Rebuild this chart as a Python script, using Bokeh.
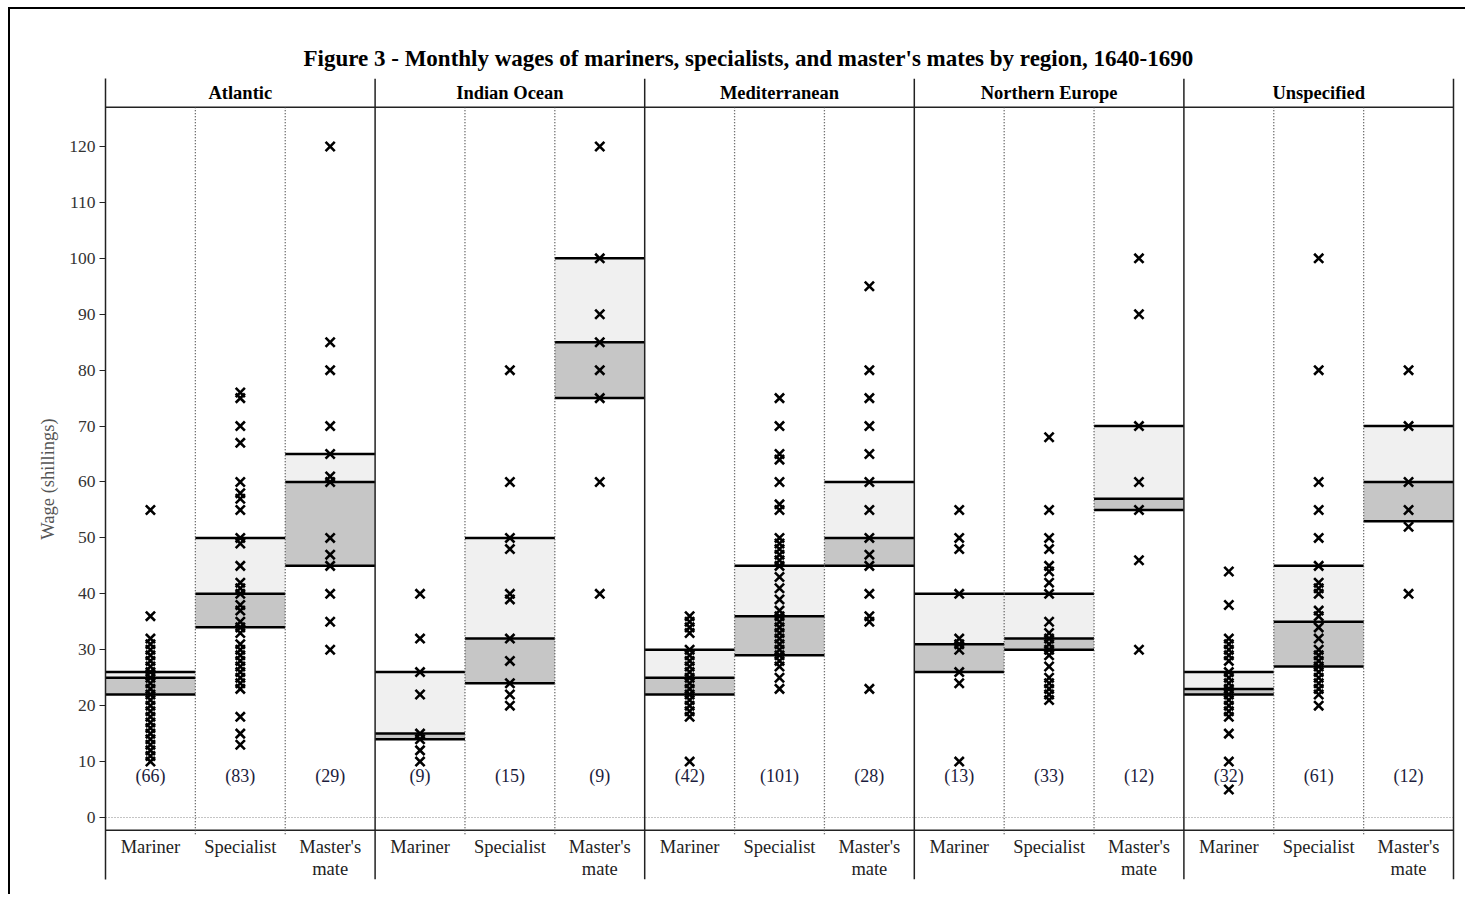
from bokeh.plotting import figure
from bokeh.models import Range1d, FixedTicker
from bokeh.layouts import column
from bokeh.embed import file_html
from bokeh.resources import INLINE
from bokeh.core.properties import value

# ---------------- data ----------------
regions = ["Atlantic", "Indian Ocean", "Mediterranean", "Northern Europe", "Unspecified"]
roles = ["Mariner", "Specialist", "Master's\nmate"]

atlantic_mariner = [55, 36, 32, 31, 30, 29, 28, 27, 26, 25, 24, 23, 22, 21, 20, 19, 18, 17, 16, 15, 14, 13, 12, 11, 10]
atlantic_specialist = [76, 75, 70, 67, 60, 58, 57, 55, 50, 49, 45, 42, 41, 40, 38, 37, 35, 34, 33, 31, 30, 29, 28,
                       27, 26, 25, 24, 23, 18, 15, 13]
atlantic_mate = [120, 85, 80, 70, 65, 61, 60, 50, 47, 45, 40, 35, 30]

indian_mariner = [40, 32, 26, 22, 15, 14, 12, 10]
indian_specialist = [80, 60, 50, 48, 40, 39, 32, 28, 24, 22, 20]
indian_mate = [120, 100, 90, 85, 80, 75, 60, 40]

med_mariner = [36, 35, 34, 33, 30, 29, 28, 27, 26, 25, 24, 23, 22, 21, 20, 19, 18, 10]
med_specialist = [75, 70, 65, 64, 60, 56, 55, 50, 49, 48, 47, 46, 45, 43, 41, 39, 37, 36, 35, 34, 33, 32, 31, 30,
                  29, 28, 27, 25, 23]
med_mate = [95, 80, 75, 70, 65, 60, 55, 50, 47, 45, 40, 36, 35, 23]

north_mariner = [55, 50, 48, 40, 32, 31, 30, 26, 24, 10]
north_specialist = [68, 55, 50, 48, 45, 44, 42, 40, 35, 33, 32, 31, 30, 29, 27, 25, 24, 23, 22, 21]
north_mate = [100, 90, 70, 60, 55, 46, 30]

unspec_mariner = [44, 38, 32, 31, 30, 29, 28, 26, 25, 24, 23, 22, 21, 20, 19, 18, 15, 10, 5]
unspec_specialist = [100, 80, 60, 55, 50, 45, 42, 41, 40, 37, 36, 34, 32, 30, 29, 28, 27, 26, 25, 24, 23, 22, 20]
unspec_mate = [80, 70, 60, 55, 52, 40]

q1 = [22, 34, 45, 14, 24, 75, 22, 29, 45, 26, 30, 55, 22, 27, 53]
median = [25, 40, 60, 15, 32, 85, 25, 36, 50, 31, 32, 57, 23, 35, 60]
q3 = [26, 50, 65, 26, 50, 100, 30, 45, 60, 40, 40, 70, 26, 45, 70]
counts = [66, 83, 29, 9, 15, 9, 42, 101, 28, 13, 33, 12, 32, 61, 12]

y_ticks = [0, 10, 20, 30, 40, 50, 60, 70, 80, 90, 100, 110, 120]

points = [atlantic_mariner, atlantic_specialist, atlantic_mate,
          indian_mariner, indian_specialist, indian_mate,
          med_mariner, med_specialist, med_mate,
          north_mariner, north_specialist, north_mate,
          unspec_mariner, unspec_specialist, unspec_mate]

# ---------------- layout ----------------
FONT = "Liberation Serif"
n = len(points)
nroles = len(roles)
left = list(range(n))
right = [i + 1 for i in left]
centers = [i + 0.5 for i in left]

Y_BOTTOM, Y_TOP = -11.09, 132.16
STRIP_Y = 127.0
AXIS_Y = -2.27

p = figure(width=1455, height=885,
           x_range=Range1d(0, n + 0.0334), y_range=Range1d(Y_BOTTOM, Y_TOP),
           output_backend="svg", toolbar_location=None,
           min_border_left=95, min_border_right=9, min_border_top=69, min_border_bottom=15,
           title="Figure 3 - Monthly wages of mariners, specialists, and master's mates by region, 1640-1690")
p.title.text_font = FONT
p.title.text_font_size = "23px"
p.title.text_font_style = "bold"
p.title.text_color = "black"
p.title.align = "left"
p.title.offset = 198
p.title.standoff = 16

p.xaxis.visible = False
p.xgrid.visible = False
p.ygrid.visible = False
p.outline_line_color = None
p.background_fill_color = "white"
p.border_fill_color = "white"

ya = p.yaxis[0]
ya.ticker = FixedTicker(ticks=y_ticks)
ya.axis_line_color = "#222222"
ya.axis_line_width = 1.5
ya.major_tick_line_color = "#222222"
ya.major_tick_line_width = 1.2
ya.major_tick_out = 6
ya.major_tick_in = 0
ya.minor_tick_out = 0
ya.minor_tick_in = 0
ya.major_label_text_font = FONT
ya.major_label_text_font_size = "17.5px"
ya.major_label_text_color = "#333333"
ya.major_label_standoff = 4
ya.axis_label = "Wage (shillings)"
ya.axis_label_text_font = FONT
ya.axis_label_text_font_size = "18.5px"
ya.axis_label_text_font_style = "normal"
ya.axis_label_text_color = "#555555"
ya.axis_label_standoff = 8

# boxes (Q1-median dark, median-Q3 light)
p.quad(left=left, right=right, bottom=q1, top=median, fill_color="#c6c6c6", line_color=None)
p.quad(left=left, right=right, bottom=median, top=q3, fill_color="#f0f0f0", line_color=None)
for stat in (q1, median, q3):
    p.segment(x0=left, y0=stat, x1=right, y1=stat, line_color="black", line_width=2.5)

# frame lines
p.segment(x0=[0], y0=[0], x1=[n], y1=[0], line_color="#888888", line_width=1, line_dash="1 2")
p.segment(x0=[0], y0=[STRIP_Y], x1=[n], y1=[STRIP_Y], line_color="#222222", line_width=1.5)
p.segment(x0=[0], y0=[AXIS_Y], x1=[n], y1=[AXIS_Y], line_color="#222222", line_width=1.5)
inner = [i for i in range(1, n) if i % nroles != 0]
p.segment(x0=inner, y0=[STRIP_Y] * len(inner), x1=inner, y1=[-3.3] * len(inner),
          line_color="#444444", line_width=1.3, line_dash="1 2")
outer = [i for i in range(nroles, n + 1, nroles)]
p.segment(x0=outer, y0=[Y_BOTTOM] * len(outer), x1=outer, y1=[Y_TOP] * len(outer),
          line_color="#222222", line_width=1.5)

# points
xs, ys = [], []
for c, vals in zip(centers, points):
    xs.extend([c] * len(vals))
    ys.extend(vals)
p.scatter(x=xs, y=ys, marker="x", size=13, line_width=2.6, line_color="black")

# counts
p.text(x=centers, y=[7.5] * n, text=["(%d)" % c for c in counts],
       text_font=value(FONT), text_font_size="18px", text_color="#1c1c3c",
       text_align="center", text_baseline="middle")

# region headers
reg_x = [i * nroles + nroles / 2 for i in range(len(regions))]
p.text(x=reg_x, y=[129.6] * len(regions), text=regions,
       text_font=value(FONT), text_font_size="18.5px", text_font_style="bold",
       text_color="black", text_align="center", text_baseline="middle")

# role labels
p.text(x=centers, y=[-3.5] * n, text=roles * len(regions),
       text_font=value(FONT), text_font_size="18.5px", text_color="#222222",
       text_align="center", text_baseline="top", text_line_height=1.08)

root = column(p, styles={"border-top": "2px solid black", "border-left": "2px solid black",
                         "margin-left": "8px", "margin-top": "7px"})
open("out.html", "w").write(file_html(root, INLINE))
